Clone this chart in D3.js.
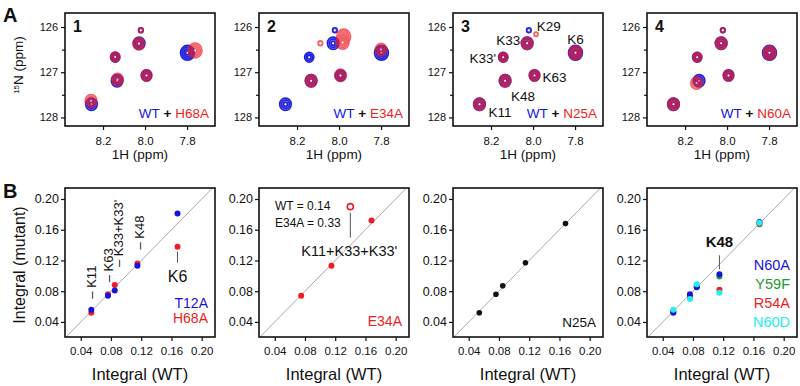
<!DOCTYPE html>
<html>
<head>
<meta charset="utf-8">
<script src="https://cdn.jsdelivr.net/npm/d3@7"></script>
<style>
  body { margin: 0; background: #fff; }
  svg text { font-family: "Liberation Sans", Arial, sans-serif; fill: #111; }
</style>
</head>
<body>
<div id="main"></div>
<script>
const ctx = {
    w: 800,
    h: 386,
    specTop: 13, specW: 150, specH: 113,
    scatTop: 188, scatW: 150, scatH: 149,
    step: 194, left0: 65
};

const BLUE = "#1414dc", RED = "#ee1c24", GREEN = "#249a2c", CYAN = "#22eeee";

// ---------- panel A: HSQC peaks (1H ppm, 15N ppm, relative intensity) ----------
const residues = ["K11", "K33'", "K48", "K33", "K29", "K63", "K6"];
const wtH   = [8.255, 8.142, 8.133, 8.028, 8.020, 7.993, 7.798];
const wtN   = [127.71, 126.67, 127.19, 126.36, 126.07, 127.07, 126.57];
const wtAmp = [5, 4, 5, 5, 2, 4.5, 6];

const h68aH   = [8.257, 8.142, 8.131, 8.030, 8.020, 7.993, 7.762];
const h68aN   = [127.63, 126.66, 127.16, 126.37, 126.07, 127.07, 126.52];
const h68aAmp = [5, 4, 5, 5, 2, 4.5, 6];

const e34aH   = [8.133, 7.993, 7.800, 7.978, 7.983, 8.089];
const e34aN   = [127.19, 127.07, 126.50, 126.21, 126.34, 126.36];
const e34aAmp = [5, 5, 5, 6, 5.5, 2];

const n25aH   = [8.255, 8.142, 8.133, 8.028, 7.986, 7.993, 7.798];
const n25aN   = [127.71, 126.67, 127.19, 126.36, 126.16, 127.07, 126.57];
const n25aAmp = [5, 4, 5, 5, 1.8, 4.5, 5.5];

const n60aH   = [8.255, 8.142, 8.145, 8.028, 8.020, 7.993, 7.798];
const n60aN   = [127.71, 126.67, 127.24, 126.36, 126.07, 127.07, 126.57];
const n60aAmp = [5, 4, 5, 5, 2, 4.5, 5.5];

const hTicks = [8.2, 8.0, 7.8];
const nTicks = [126, 127, 128];
const nMinor = [126.5, 127.5];

// ---------- panel B: integrals ----------
const intResidues = ["K11", "K63", "K33+K33'", "K48", "K6"];
const wtInt = [0.054, 0.076, 0.085, 0.115, 0.168];
const t12a  = [0.056, 0.074, 0.081, 0.113, 0.181];
const h68a  = [0.052, 0.076, 0.088, 0.116, 0.138];
const e34aWt = [0.075, 0.115, 0.168];
const e34a   = [0.074, 0.113, 0.172];
const e34aComboWt = 0.14, e34aCombo = 0.33, comboCap = 0.19;
const n25a  = [0.052, 0.076, 0.087, 0.117, 0.168];
const n60a  = [0.052, 0.076, 0.085, 0.102, 0.170];
const y59f  = [0.054, 0.073, 0.086, 0.099, 0.167];
const r54a  = [0.053, 0.074, 0.087, 0.082, 0.168];
const n60d  = [0.056, 0.070, 0.089, 0.078, 0.169];
const intTicks = [0.04, 0.08, 0.12, 0.16, 0.20];

const svg = d3.select("#main").append("svg")
    .attr("width", ctx.w).attr("height", ctx.h);

// intensity -> contour radius
const rScale = d3.scaleLinear().domain([0, 6]).range([0, 7]);

function styleAxis(ax, size) {
    ax.select(".domain").remove();
    ax.selectAll("line").attr("stroke", "#111").attr("stroke-width", 1.2);
    ax.selectAll("text").attr("font-size", size).attr("fill", "#111");
}

function drawFrame(g, w, h) {
    g.append("rect").attr("width", w).attr("height", h)
        .attr("fill", "none").attr("stroke", "#111").attr("stroke-width", 1.6);
}

function drawPeaks(g, x, y, H, N, A, color, op) {
    let pg = g.append("g").attr("opacity", op);
    H.forEach((h, i) => {
        let r = rScale(A[i]);
        let n = Math.max(1, Math.round(A[i] / 1.5));
        let cx = x(h), cy = y(N[i]);
        pg.append("ellipse").attr("cx", cx).attr("cy", cy)
            .attr("rx", r).attr("ry", r * 1.08)
            .attr("fill", color).attr("fill-opacity", 0.6);
        for (let k = n; k >= 1; k--) {
            pg.append("ellipse").attr("cx", cx).attr("cy", cy)
                .attr("rx", r * k / n).attr("ry", r * k / n * 1.08)
                .attr("fill", "none").attr("stroke", color).attr("stroke-width", 1.5);
        }
        pg.append("circle").attr("cx", cx).attr("cy", cy).attr("r", 1).attr("fill", "#fff");
    });
}

function drawSpectrum(idx, mutH, mutN, mutAmp, mutName) {
    let left = ctx.left0 + idx * ctx.step;
    let w = ctx.specW, h = ctx.specH;
    let x = d3.scaleLinear().domain([8.381, 7.667]).range([0, w]);
    let y = d3.scaleLinear().domain([125.69, 128.19]).range([0, h]);
    let g = svg.append("g").attr("transform", `translate(${left},${ctx.specTop})`);

    let xa = g.append("g").attr("transform", `translate(0,${h})`)
        .call(d3.axisBottom(x).tickValues(hTicks).tickFormat(d3.format(".1f")).tickSize(4).tickPadding(7));
    styleAxis(xa, 11.5);
    let ya = g.append("g")
        .call(d3.axisLeft(y).tickValues(nTicks).tickFormat(d3.format("d")).tickSize(4).tickPadding(3));
    styleAxis(ya, 11);
    let ym = g.append("g").call(d3.axisLeft(y).tickValues(nMinor).tickFormat("").tickSize(3));
    styleAxis(ym, 0);

    let clip = g.append("clipPath").attr("id", "clipS" + idx);
    clip.append("rect").attr("width", w).attr("height", h);
    let pk = g.append("g").attr("clip-path", `url(#clipS${idx})`);
    drawPeaks(pk, x, y, wtH, wtN, wtAmp, BLUE, 0.95);
    drawPeaks(pk, x, y, mutH, mutN, mutAmp, RED, 0.7);

    drawFrame(g, w, h);

    g.append("text").attr("x", 8).attr("y", 19).attr("font-size", 16)
        .attr("font-weight", "bold").text(idx + 1);

    let lg = g.append("text").attr("x", w - 6).attr("y", h - 8)
        .attr("text-anchor", "end").attr("font-size", 13.5);
    lg.append("tspan").attr("fill", BLUE).text("WT");
    lg.append("tspan").attr("font-weight", "bold").text(" + ");
    lg.append("tspan").attr("fill", RED).text(mutName);

    g.append("text").attr("x", w / 2).attr("y", 146 - ctx.specTop + 13)
        .attr("text-anchor", "middle").attr("font-size", 13.5).text("1H (ppm)");

    return { g: g, x: x, y: y };
}

// label placement around peaks in spectrum 3 (dx, dy, anchor)
const peakLabelPos = {
    "K29": [8, -4, "start"], "K33": [-7, -3, "end"], "K6": [0, -14, "middle"],
    "K33'": [-7, 1, "end"], "K63": [8, 2, "start"], "K48": [6, 15, "start"],
    "K11": [9, 8, "start"]
};

drawSpectrum(0, h68aH, h68aN, h68aAmp, "H68A");
drawSpectrum(1, e34aH, e34aN, e34aAmp, "E34A");
let s3 = drawSpectrum(2, n25aH, n25aN, n25aAmp, "N25A");
drawSpectrum(3, n60aH, n60aN, n60aAmp, "N60A");

residues.forEach((res, i) => {
    let p = peakLabelPos[res];
    s3.g.append("text")
        .attr("x", s3.x(wtH[i]) + p[0]).attr("y", s3.y(wtN[i]) + p[1])
        .attr("dy", "0.35em").attr("text-anchor", p[2])
        .attr("font-size", 13.5).text(res);
});

// y label for A
let yl = svg.append("text").attr("transform", "translate(23,65) rotate(-90)")
    .attr("text-anchor", "middle").attr("font-size", 13.5);
yl.append("tspan").attr("font-size", 8).attr("baseline-shift", "super").text("15");
yl.append("tspan").text("N (ppm)");

// ---------- scatter panels ----------
function drawScatter(idx) {
    let left = ctx.left0 + idx * ctx.step;
    let w = ctx.scatW, h = ctx.scatH;
    let x = d3.scaleLinear().domain([0.0192, 0.2176]).range([0, w]);
    let y = d3.scaleLinear().domain([0.0204, 0.2143]).range([h, 0]);
    let g = svg.append("g").attr("transform", `translate(${left},${ctx.scatTop})`);

    let xa = g.append("g").attr("transform", `translate(0,${h})`)
        .call(d3.axisBottom(x).tickValues(intTicks).tickFormat(d3.format(".2f")).tickSize(4).tickPadding(6));
    styleAxis(xa, 11.5);
    let ya = g.append("g")
        .call(d3.axisLeft(y).tickValues(intTicks).tickFormat(d3.format(".2f")).tickSize(4).tickPadding(2));
    styleAxis(ya, 12.5);

    let clip = g.append("clipPath").attr("id", "clipB" + idx);
    clip.append("rect").attr("width", w).attr("height", h);
    g.append("line").attr("clip-path", `url(#clipB${idx})`)
        .attr("x1", x(0)).attr("y1", y(0)).attr("x2", x(0.3)).attr("y2", y(0.3))
        .attr("stroke", "#aaa").attr("stroke-width", 1);

    g.append("text").attr("x", w / 2).attr("y", 380 - ctx.scatTop)
        .attr("text-anchor", "middle").attr("font-size", 16.5).text("Integral (WT)");
    return { g: g, x: x, y: y, w: w, h: h };
}

function dots(p, xs, ys, color, r) {
    p.g.append("g").selectAll("circle").data(xs).enter().append("circle")
        .attr("cx", (d) => p.x(d)).attr("cy", (d, i) => p.y(ys[i]))
        .attr("r", r).attr("fill", color);
}

function legend(p, items, yStart, gap, size) {
    items.forEach((it, i) => {
        p.g.append("text").attr("x", p.w - 7).attr("y", yStart + i * gap)
            .attr("text-anchor", "end").attr("font-size", size)
            .style("fill", it[1]).text(it[0]);
    });
}

// B1
let b1 = drawScatter(0);
dots(b1, wtInt, h68a, RED, 3);
dots(b1, wtInt, t12a, BLUE, 3);
// rotated residue labels: horizontal shift and gap above the upper point
const b1LabelShift = [0, 0, 4, 2];
const b1LabelGap = [11, 12, 18, 14];
intResidues.slice(0, 4).forEach((res, i) => {
    let top = b1.y(Math.max(t12a[i], h68a[i]));
    b1.g.append("text")
        .attr("transform", `translate(${b1.x(wtInt[i]) + b1LabelShift[i]},${top - b1LabelGap[i]}) rotate(-90)`)
        .attr("dy", "0.35em").attr("font-size", 13).text("– " + res);
});
b1.g.append("line")
    .attr("x1", b1.x(wtInt[4])).attr("x2", b1.x(wtInt[4]))
    .attr("y1", b1.y(h68a[4]) + 5).attr("y2", b1.y(h68a[4]) + 16)
    .attr("stroke", "#555").attr("stroke-width", 1);
b1.g.append("text").attr("x", b1.x(wtInt[4])).attr("y", b1.y(h68a[4]) + 35)
    .attr("text-anchor", "middle").attr("font-size", 16).text(intResidues[4]);
legend(b1, [["T12A", BLUE], ["H68A", RED]], 120, 15, 14);

// B2
let b2 = drawScatter(1);
dots(b2, e34aWt, e34a, RED, 3);
let cy2 = b2.y(Math.min(e34aCombo, comboCap));
b2.g.append("circle").attr("cx", b2.x(e34aComboWt)).attr("cy", cy2).attr("r", 3)
    .attr("fill", "#fff").attr("stroke", RED).attr("stroke-width", 1.6);
b2.g.append("line")
    .attr("x1", b2.x(e34aComboWt)).attr("x2", b2.x(e34aComboWt))
    .attr("y1", cy2 + 6).attr("y2", cy2 + 31)
    .attr("stroke", "#555").attr("stroke-width", 1);
b2.g.append("text").attr("x", b2.x(e34aComboWt) - 1).attr("y", cy2 + 49)
    .attr("text-anchor", "middle").attr("font-size", 14.5).text("K11+K33+K33'");
b2.g.append("text").attr("x", 16).attr("y", 22).attr("font-size", 12)
    .text("WT = " + d3.format(".2f")(e34aComboWt));
b2.g.append("text").attr("x", 16).attr("y", 39).attr("font-size", 12)
    .text("E34A = " + d3.format(".2f")(e34aCombo));
legend(b2, [["E34A", RED]], 138, 15, 14);

// B3
let b3 = drawScatter(2);
dots(b3, wtInt, n25a, "#111", 2.8);
legend(b3, [["N25A", "#111"]], 139, 15, 13.5);

// B4
let b4 = drawScatter(3);
dots(b4, wtInt, y59f, GREEN, 3);
dots(b4, wtInt, r54a, RED, 3);
dots(b4, wtInt, n60a, BLUE, 3);
dots(b4, wtInt, n60d, CYAN, 3);
b4.g.append("line")
    .attr("x1", b4.x(wtInt[3])).attr("x2", b4.x(wtInt[3]))
    .attr("y1", b4.y(n60a[3]) - 19).attr("y2", b4.y(n60a[3]) - 5)
    .attr("stroke", "#555").attr("stroke-width", 1);
b4.g.append("text").attr("x", b4.x(wtInt[3])).attr("y", b4.y(n60a[3]) - 27)
    .attr("text-anchor", "middle").attr("font-size", 15).attr("font-weight", "bold")
    .text(intResidues[3]);
legend(b4, [["N60A", BLUE], ["Y59F", GREEN], ["R54A", RED], ["N60D", CYAN]], 82, 19, 14.5);

// frames on top
[b1, b2, b3, b4].forEach((p) => drawFrame(p.g, p.w, p.h));

// y label for B
svg.append("text").attr("transform", "translate(25,265) rotate(-90)")
    .attr("text-anchor", "middle").attr("font-size", 16).text("Integral (mutant)");

// panel letters
svg.append("text").attr("x", 3).attr("y", 22).attr("font-size", 20).attr("font-weight", "bold").text("A");
svg.append("text").attr("x", 3).attr("y", 198).attr("font-size", 20).attr("font-weight", "bold").text("B");
</script>
</body>
</html>
